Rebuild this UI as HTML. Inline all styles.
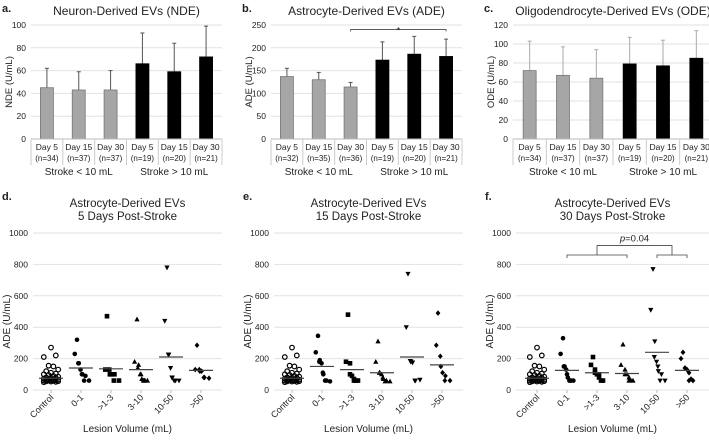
<!DOCTYPE html>
<html><head><meta charset="utf-8"><style>
body{margin:0;background:#fff}
svg text{font-family:"Liberation Sans",sans-serif;fill:#222}
</style></head><body>
<svg id="fig" width="709" height="439" viewBox="0 0 709 439" xmlns="http://www.w3.org/2000/svg"></svg>
<script>
const barCats=["Day 5","Day 15","Day 30","Day 5","Day 15","Day 30"];
const nA=["(n=34)","(n=37)","(n=37)","(n=19)","(n=20)","(n=21)"];
const nB=["(n=32)","(n=35)","(n=36)","(n=19)","(n=20)","(n=21)"];
const nC=["(n=34)","(n=37)","(n=37)","(n=19)","(n=20)","(n=21)"];
const meanA=[45,43,43,66,59,72];
const errA=[62,59,60,93,84,99];
const meanB=[137,130,114,173,186,181];
const errB=[155,146,124,213,225,219];
const meanC=[72,67,64,79,77,85];
const errC=[103,97,94,107,104,114];
const ticksA=[0,20,40,60,80,100];
const ticksB=[0,50,100,150,200,250];
const ticksC=[0,20,40,60,80,100,120];
const groups=["Stroke < 10 mL","Stroke > 10 mL"];

const scatCats=["Control","0-1",">1-3","3-10","10-50",">50"];
const scatTicks=[0,200,400,600,800,1000];
const control=[50,52,54,55,56,58,60,60,62,63,65,66,68,70,72,75,78,80,85,90,95,100,105,110,120,130,150,155,210,220,270];
const d01=[320,230,170,170,130,100,100,90,60,60];
const d13=[470,130,130,100,100,100,60,60];
const d310=[450,180,160,140,100,100,70,60,60,60,60];
const d1050=[780,440,225,225,140,80,80,60,60,60];
const d50=[285,130,130,120,120,80,80,75];
const dMeans=[75,140,135,130,210,125];
const e01=[345,240,190,180,170,110,100,60,60,55];
const e13=[480,180,170,100,90,70,60,60,60];
const e310=[310,180,110,110,100,80,70,60,55,55];
const e1050=[740,400,185,180,175,60,60,65];
const e50=[490,285,215,150,110,90,60,60];
const eMeans=[75,150,130,110,210,160];
const f01=[330,230,150,150,130,100,80,60,60,60,60];
const f13=[210,160,130,110,100,100,80,60,60];
const f310=[290,160,130,100,100,80,60,60,60];
const f1050=[770,510,310,210,180,150,120,100,60,60];
const f50=[240,200,140,140,130,110,60,60,70];
const fMeans=[75,125,110,105,240,125];

const S="http://www.w3.org/2000/svg",svg=document.getElementById('fig');
function el(t,a,txt){const e=document.createElementNS(S,t);for(const k in a)e.setAttribute(k,a[k]);if(txt!=null)e.textContent=txt;svg.appendChild(e);return e;}

function barPanel(x0,w,letter,title,ylab,ticks,means,errs,ns,gray){
  const y0=139,y1=25,max=ticks[ticks.length-1];
  const ys=v=>y0-(v/max)*(y0-y1);
  const slot=w/6,xs=i=>x0+slot*(i+0.5);
  let t=el('text',{x:x0-29,y:12,'font-size':11,'font-weight':'bold'},letter);
  
  t=el('text',{x:x0+w/2,y:15,'font-size':12,'text-anchor':'middle'},title);
  
  ticks.forEach(v=>{
    const g=el('line',{x1:x0,x2:x0+w,y1:ys(v),y2:ys(v),stroke:'#e2e2e2','stroke-width':1});
    
    const l=el('text',{x:x0-5,y:ys(v)+3,'font-size':8.5,'text-anchor':'end'},v);
    
  });
  t=el('text',{x:0,y:0,'font-size':9.5,'text-anchor':'middle',transform:`translate(${x0-19},${(y0+y1)/2}) rotate(-90)`},ylab);
  
  means.forEach((m,i)=>{
    const cx=xs(i),col=i<3?'#a6a6a6':'#000';
    const e=el('line',{x1:cx,x2:cx,y1:ys(errs[i]),y2:ys(m),stroke:gray,'stroke-width':1});
    
    const c=el('line',{x1:cx-2,x2:cx+2,y1:ys(errs[i]),y2:ys(errs[i]),stroke:gray,'stroke-width':1});
    
    const b=el('rect',{x:cx-6.5,y:ys(m),width:13,height:y0-ys(m),fill:col,stroke:i<3?'#777':'#000','stroke-width':0.8});
    
    const l1=el('text',{x:cx,y:y0+11,'font-size':8.5,'text-anchor':'middle'},barCats[i]);
    
    const l2=el('text',{x:cx,y:y0+22,'font-size':8,'text-anchor':'middle'},ns[i]);
    
  });
  const ax=el('line',{x1:x0,x2:x0+w,y1:y0,y2:y0,stroke:'#bbb'});
  
  for(let i=0;i<=6;i++){const d=el('line',{x1:x0+slot*i,x2:x0+slot*i,y1:y0,y2:y0+26,stroke:'#ccc'});
    }
  groups.forEach((g,k)=>{const tt=el('text',{x:x0+slot*(1.5+3*k),y:y0+36,'font-size':10,'text-anchor':'middle'},g);
    });
  return {xs,ys};
}
barPanel(31,191,'a.','Neuron-Derived EVs (NDE)','NDE (U/mL)',ticksA,meanA,errA,nA,'#555');
const pb=barPanel(271,191,'b.','Astrocyte-Derived EVs (ADE)','ADE (U/mL)',ticksB,meanB,errB,nB,'#555');
let br=el('path',{d:`M${pb.xs(2)},${pb.ys(236)}V${pb.ys(240)}H${pb.xs(5)}V${pb.ys(236)}`,fill:'none',stroke:'#444','stroke-width':0.8});

br=el('text',{x:(pb.xs(2)+pb.xs(5))/2,y:pb.ys(240)+4,'font-size':9,'text-anchor':'middle'},'*');

barPanel(513,200,'c.','Oligodendrocyte-Derived EVs (ODE)','ODE (U/mL)',ticksC,meanC,errC,nC,'#aaa');

function marker(k,x,y){
  let m;
  if(k===0)m=el('circle',{cx:x,cy:y,r:2.3,fill:'none',stroke:'#000','stroke-width':1.2});
  else if(k===1)m=el('circle',{cx:x,cy:y,r:2.3,fill:'#000'});
  else if(k===2)m=el('rect',{x:x-2.3,y:y-2.3,width:4.6,height:4.6,fill:'#000'});
  else if(k===3)m=el('path',{d:`M${x},${y-2.8}L${x+2.6},${y+2}L${x-2.6},${y+2}Z`,fill:'#000'});
  else if(k===4)m=el('path',{d:`M${x},${y+2.8}L${x+2.6},${y-2}L${x-2.6},${y-2}Z`,fill:'#000'});
  else m=el('path',{d:`M${x},${y-2.8}L${x+2.4},${y}L${x},${y+2.8}L${x-2.4},${y}Z`,fill:'#000'});
  
}
function scatPanel(x0,w,c0,letter,sub,sets,means){
  const y0=390,y1=233;const ys=v=>y0-(v/1000)*(y0-y1);const xs=i=>c0+30*i;
  let t=el('text',{x:x0-31,y:200,'font-size':11,'font-weight':'bold'},letter);
  
  t=el('text',{x:x0+w/2,y:207,'font-size':11.5,'text-anchor':'middle'},'Astrocyte-Derived EVs');
  
  t=el('text',{x:x0+w/2,y:220,'font-size':11.5,'text-anchor':'middle'},sub);
  
  scatTicks.forEach(v=>{
    const g=el('line',{x1:x0,x2:x0+w,y1:ys(v),y2:ys(v),stroke:'#e2e2e2'});
    
    const l=el('text',{x:x0-5,y:ys(v)+3,'font-size':8.5,'text-anchor':'end'},v);
    
  });
  t=el('text',{x:0,y:0,'font-size':10,'text-anchor':'middle',transform:`translate(${x0-23},${(y0+y1)/2+10}) rotate(-90)`},'ADE (U/mL)');
  
  sets.forEach((arr,k)=>{
    const cx=xs(k);
    const tk=el('line',{x1:cx,x2:cx,y1:y0,y2:y0+3,stroke:'#bbb'});
    
    arr.forEach((v,i)=>{
      const n=arr.length;
      const off=k===0?((i*5)%7-3)*2.4:(n>1?(i/(n-1)-0.5)*16*((i%2)?1:0.5):0);
      marker(k,cx+off,ys(v));
    });
    const ml=el('line',{x1:cx-12,x2:cx+12,y1:ys(means[k]),y2:ys(means[k]),stroke:'#444','stroke-width':1.2});
    
    const lb=el('text',{x:0,y:0,'font-size':9,'text-anchor':'end',transform:`translate(${cx+3},${y0+8}) rotate(-45)`},scatCats[k]);
    
  });
  t=el('text',{x:x0+w/2,y:432,'font-size':10,'text-anchor':'middle'},'Lesion Volume (mL)');
  
  return {xs,ys};
}
scatPanel(33,189,51,'d.','5 Days Post-Stroke',[control,d01,d13,d310,d1050,d50],dMeans);
scatPanel(274,189,292,'e.','15 Days Post-Stroke',[control,e01,e13,e310,e1050,e50],eMeans);
const pf=scatPanel(516,193,537,'f.','30 Days Post-Stroke',[control,f01,f13,f310,f1050,f50],fMeans);
const yb=pf.ys(860),yt=pf.ys(920);
let pb2=el('path',{d:`M${pf.xs(1)},${yb+3}V${yb}H${pf.xs(3)}V${yb+3}M${pf.xs(4)},${yb+3}V${yb}H${pf.xs(5)}V${yb+3}M${pf.xs(2)},${yb}V${yt}H${(pf.xs(4)+pf.xs(5))/2}V${yb}`,fill:'none',stroke:'#444','stroke-width':0.8});

pb2=el('text',{x:(pf.xs(2)+pf.xs(4.5))/2,y:yt-4,'font-size':9.5,'text-anchor':'middle'});
pb2.innerHTML='<tspan font-style="italic">p</tspan>=0.04';

</script>
</body></html>
